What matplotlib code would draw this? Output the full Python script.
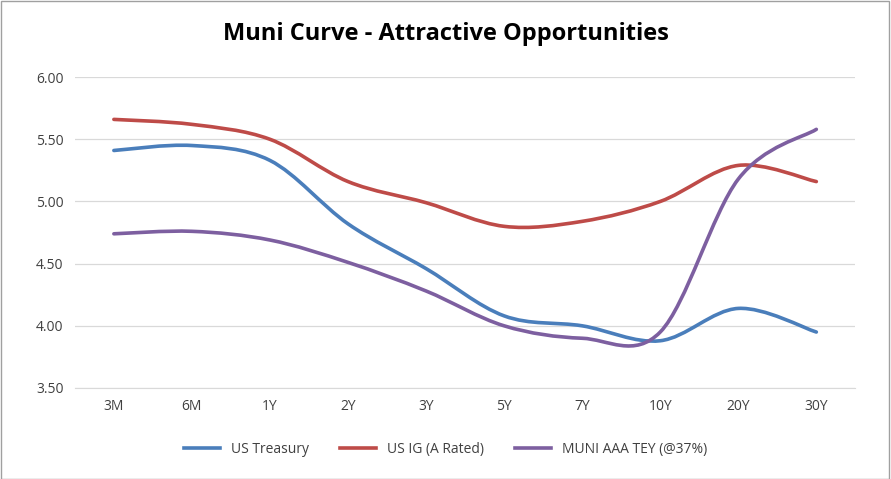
import matplotlib.pyplot as plt
from matplotlib.path import Path
from matplotlib.patches import PathPatch, Rectangle
from matplotlib.lines import Line2D

# data
tenors = ['3M', '6M', '1Y', '2Y', '3Y', '5Y', '7Y', '10Y', '20Y', '30Y']
treasury = [5.41, 5.45, 5.33, 4.82, 4.46, 4.08, 4.00, 3.88, 4.14, 3.95]
us_ig = [5.66, 5.62, 5.50, 5.16, 4.99, 4.80, 4.84, 5.00, 5.29, 5.16]
muni = [4.74, 4.76, 4.69, 4.51, 4.28, 4.00, 3.90, 3.95, 5.18, 5.58]

names = ['US Treasury', 'US IG (A Rated)', 'MUNI AAA TEY (@37%)']
colors = ['#4a7ebb', '#be4b48', '#7d5fa0']

plt.rcParams['font.family'] = ['Open Sans', 'DejaVu Sans']


def smooth_path(xs, ys):
    # Excel style smoothed line: cubic bezier through the points
    verts = [(xs[0], ys[0])]
    codes = [Path.MOVETO]
    n = len(xs)
    for i in range(n - 1):
        x0, y0 = (xs[i - 1], ys[i - 1]) if i > 0 else (xs[i], ys[i])
        x3, y3 = (xs[i + 2], ys[i + 2]) if i + 2 < n else (xs[i + 1], ys[i + 1])
        x1, y1 = xs[i], ys[i]
        x2, y2 = xs[i + 1], ys[i + 1]
        c1 = (x1 + (x2 - x0) / 6, y1 + (y2 - y0) / 6)
        c2 = (x2 - (x3 - x1) / 6, y2 - (y3 - y1) / 6)
        verts += [c1, c2, (x2, y2)]
        codes += [Path.CURVE4] * 3
    return Path(verts, codes)


fig = plt.figure(figsize=(8.91, 4.79), dpi=100)
ax = fig.add_axes([0.084, 0.19, 0.876, 0.649])

xs = list(range(len(tenors)))
for series, c in zip([treasury, us_ig, muni], colors):
    ax.add_patch(PathPatch(smooth_path(xs, series), fill=False,
                           edgecolor=c, lw=2.6, capstyle='round', zorder=3))

ax.set_xlim(-0.5, len(tenors) - 0.5)
ax.set_ylim(3.5, 6.0)
ax.set_yticks([3.5, 4.0, 4.5, 5.0, 5.5, 6.0])
ax.set_yticklabels([f'{v:.2f}' for v in ax.get_yticks()])
ax.set_xticks(xs)
ax.set_xticklabels(tenors)
ax.tick_params(length=0, labelsize=10, colors='#404040', pad=8)
ax.grid(axis='y', color='#d9d9d9', lw=0.9)
for s in ['top', 'right', 'left']:
    ax.spines[s].set_visible(False)
ax.spines['bottom'].set_color('#d9d9d9')

fig.suptitle('Muni Curve - Attractive Opportunities', y=0.955,
             fontsize=17, fontweight='bold', color='black')

handles = [Line2D([], [], color=c, lw=2.6) for c in colors]
fig.legend(handles, names, loc='center', bbox_to_anchor=(0.5, 0.062), ncol=3,
           frameon=False, fontsize=10, handlelength=2.6, columnspacing=2.2,
           labelcolor='#404040')

fig.patches.append(Rectangle((0.001, 0.001), 0.997, 0.997, transform=fig.transFigure,
                             fill=False, edgecolor='#a0a0a0', lw=1))
fig.savefig('out.png', dpi=100)
